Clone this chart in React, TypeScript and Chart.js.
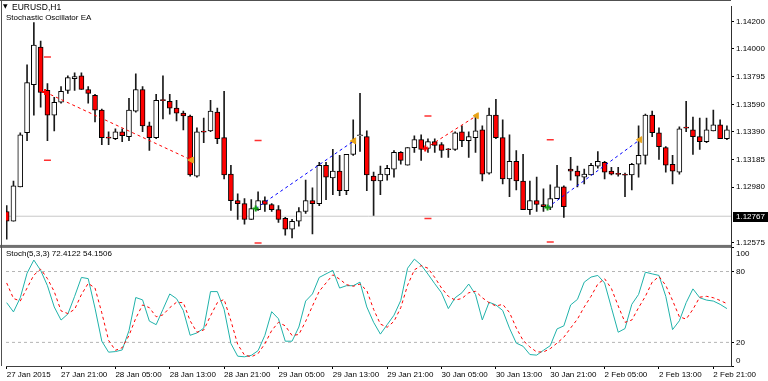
import React, { useEffect, useRef } from "react";
import { Chart, registerables } from "chart.js";

Chart.register(...registerables);

const FONT = "'Liberation Sans', Arial, sans-serif";

// ---------- data ----------
const opens = [
  1.12802, 1.1273, 1.12983, 1.13381, 1.13735, 1.1401, 1.13692, 1.13511, 1.13605, 1.13692,
  1.13779, 1.138, 1.13699, 1.13656, 1.13547, 1.13345, 1.13337, 1.13388, 1.13352, 1.1354,
  1.13699, 1.13431, 1.13345, 1.13619, 1.13612, 1.13562, 1.13525, 1.13504, 1.13062, 1.13388,
  1.13395, 1.13533, 1.13345, 1.13077, 1.12882, 1.1286, 1.12744, 1.12816, 1.12882, 1.12853,
  1.12816, 1.12751, 1.12672, 1.1273, 1.12802, 1.12882, 1.1286, 1.13142, 1.13048, 1.13099,
  1.12954, 1.13222, 1.13359, 1.13352, 1.13062, 1.13026, 1.1307, 1.13113, 1.13236, 1.13142,
  1.13272, 1.1333, 1.13265, 1.13316, 1.13294, 1.13258, 1.13258, 1.13388, 1.13323, 1.13345,
  1.13402, 1.13084, 1.13511, 1.13345, 1.13041, 1.13171, 1.13026, 1.12816, 1.12882, 1.12853,
  1.12831, 1.12896, 1.12983, 1.13113, 1.13099, 1.13055, 1.1307, 1.13135, 1.13164, 1.13099,
  1.13077, 1.1307, 1.1307, 1.13149, 1.13214, 1.13511, 1.13381, 1.13272, 1.13149, 1.13091,
  1.13417, 1.13402, 1.13352, 1.13316, 1.13395, 1.13439, 1.13337,
];
const highs = [
  1.12845, 1.13026, 1.13381, 1.1388, 1.14191, 1.14054, 1.13742, 1.13641, 1.13721, 1.138,
  1.13822, 1.13822, 1.13721, 1.13663, 1.13554, 1.13388, 1.1341, 1.1341, 1.13634, 1.13815,
  1.13721, 1.1346, 1.13663, 1.138, 1.13663, 1.13619, 1.1354, 1.13511, 1.13417, 1.13489,
  1.13619, 1.13562, 1.13685, 1.13142, 1.12932, 1.12896, 1.12889, 1.12947, 1.1291, 1.1286,
  1.12845, 1.12759, 1.12744, 1.12831, 1.13033, 1.12976, 1.13164, 1.13164, 1.13258, 1.13214,
  1.13222, 1.13475, 1.1367, 1.13395, 1.13091, 1.13135, 1.13142, 1.1325, 1.13243, 1.13272,
  1.13359, 1.13366, 1.13337, 1.13337, 1.13308, 1.13265, 1.13388, 1.13431, 1.13388, 1.13511,
  1.13431, 1.13562, 1.13627, 1.13475, 1.13366, 1.1325, 1.13222, 1.13026, 1.13055, 1.12968,
  1.12997, 1.13142, 1.1299, 1.132, 1.13135, 1.13113, 1.13156, 1.13243, 1.13171, 1.13127,
  1.13127, 1.13084, 1.13156, 1.13431, 1.13518, 1.1354, 1.13417, 1.13279, 1.13214, 1.13424,
  1.13612, 1.13496, 1.13489, 1.13489, 1.13547, 1.13475, 1.13431,
];
const lows = [
  1.12599, 1.1273, 1.12983, 1.13323, 1.13511, 1.13569, 1.13323, 1.13395, 1.13598, 1.1367,
  1.13692, 1.13699, 1.13598, 1.1346, 1.13294, 1.13294, 1.1333, 1.13316, 1.13323, 1.13533,
  1.13388, 1.1325, 1.13337, 1.13482, 1.13518, 1.13468, 1.13402, 1.13062, 1.13055, 1.13308,
  1.13388, 1.13301, 1.13041, 1.12809, 1.12744, 1.12708, 1.12744, 1.12809, 1.12802, 1.12802,
  1.12722, 1.12628, 1.12607, 1.12693, 1.12787, 1.12636, 1.12845, 1.12889, 1.12925, 1.12918,
  1.12925, 1.13214, 1.13243, 1.12954, 1.12773, 1.12925, 1.13033, 1.13055, 1.13149, 1.13142,
  1.13236, 1.13178, 1.13236, 1.13236, 1.132, 1.132, 1.1325, 1.13279, 1.132, 1.13236,
  1.13026, 1.13077, 1.13337, 1.13004, 1.1291, 1.12961, 1.12816, 1.1278, 1.12802, 1.12802,
  1.12816, 1.12896, 1.12759, 1.13033, 1.12983, 1.13004, 1.1307, 1.1312, 1.13041, 1.1307,
  1.13062, 1.1291, 1.12961, 1.13055, 1.13149, 1.13352, 1.13185, 1.13091, 1.13004, 1.13077,
  1.13388, 1.13222, 1.13258, 1.13308, 1.13395, 1.13337, 1.1333,
];
const closes = [
  1.1273, 1.1299, 1.13366, 1.1375, 1.14025, 1.13677, 1.13511, 1.13605, 1.13685, 1.13786,
  1.13793, 1.13699, 1.1367, 1.13547, 1.13345, 1.13341, 1.13388, 1.13359, 1.13547, 1.13699,
  1.13431, 1.13345, 1.13619, 1.13617, 1.13562, 1.13525, 1.13504, 1.1307, 1.13388, 1.13386,
  1.1354, 1.13337, 1.1307, 1.12882, 1.1286, 1.12744, 1.12824, 1.12882, 1.12853, 1.12816,
  1.12744, 1.12672, 1.1273, 1.12802, 1.12882, 1.1286, 1.13142, 1.13055, 1.13099, 1.12954,
  1.13222, 1.13316, 1.13362, 1.1307, 1.13026, 1.13077, 1.1312, 1.13236, 1.13178, 1.13272,
  1.1333, 1.13258, 1.13316, 1.13287, 1.1325, 1.13256, 1.13381, 1.13323, 1.13352, 1.13395,
  1.13077, 1.13511, 1.13345, 1.13041, 1.13171, 1.13026, 1.12816, 1.12882, 1.12853, 1.12838,
  1.12896, 1.12983, 1.12838, 1.13099, 1.13062, 1.13077, 1.13142, 1.13171, 1.13091, 1.13077,
  1.13075, 1.13068, 1.13149, 1.13214, 1.13511, 1.13381, 1.13279, 1.13142, 1.13099, 1.1341,
  1.13415, 1.13352, 1.13316, 1.13402, 1.13439, 1.13337, 1.13402,
];

const stochMain = [
  53.6, 45.8, 57.8, 78.6, 89.7, 81, 68, 50, 38.9, 44,
  59, 75, 74, 49, 21, 11.7, 12.2, 13.6, 30, 58,
  56, 38, 35, 48, 61, 57, 47, 26, 28, 32,
  63, 63, 48, 19, 8.3, 7.8, 9, 13, 26, 46,
  40, 21, 21, 33, 55, 61, 75, 78, 81, 66,
  68, 68, 71, 50, 37, 27, 35, 43, 55.5, 82.8,
  90.5, 85.5, 77.8, 69.7, 62, 48.6, 57.8, 62, 69.4, 60.5,
  39, 54, 51.7, 47, 32, 19.4, 16.7, 9.7, 9.2, 13.3,
  17.2, 31.4, 34, 51.7, 56.4, 71, 75.3, 76.7, 70.3, 49.4,
  28.6, 31.7, 52.2, 60.6, 79.4, 78, 76.7, 59, 30.8, 38.3,
  53.6, 65.3, 57.8, 55.8, 55, 52.2, 48.6,
];
const stochSignal = [
  70.3, 57.2, 55, 66, 77, 82, 74, 63, 46.7, 44.4,
  48, 60.5, 70, 66, 45, 21.7, 13.3, 15.5, 25.8, 40.5,
  51.7, 49.4, 41.7, 43.3, 49.4, 54, 53.6, 38.3, 28.6, 30.5,
  42.5, 53.6, 56.4, 38.3, 18.3, 9.2, 7.8, 10.5, 18.9, 30,
  37, 34, 25.8, 26.7, 37.8, 50.8, 63.3, 70.3, 77.2, 73.6,
  68.9, 67.5, 69.4, 63.9, 48, 35.5, 32.8, 37.8, 49.4, 68.3,
  81.4, 85, 82.8, 75, 66, 59, 55.8, 57.2, 62, 63.3,
  57.8, 53.6, 50.8, 52.2, 45.3, 32.2, 21.7, 16.1, 11.9, 11.9,
  14.7, 19.4, 24.4, 32.2, 39.7, 50, 59, 69.4, 73.9, 65.6,
  50.8, 37, 38.9, 49.4, 59, 71, 75.8, 68.3, 55.5, 41.7,
  39.7, 48, 58.3, 59, 57.8, 55.5, 52.8,
];

const timeTickBars = [0, 8, 16, 24, 32, 40, 48, 56, 64, 72, 80, 88, 96, 104];
const timeTickLabels = [
  "27 Jan 2015", "27 Jan 21:00", "28 Jan 05:00", "28 Jan 13:00", "28 Jan 21:00",
  "29 Jan 05:00", "29 Jan 13:00", "29 Jan 21:00", "30 Jan 05:00", "30 Jan 13:00",
  "30 Jan 21:00", "2 Feb 05:00", "2 Feb 13:00", "2 Feb 21:00",
];
const priceTicks = [1.142, 1.14, 1.13795, 1.1359, 1.1339, 1.13185, 1.1298, 1.12575];
const stochTicks = [0, 20, 80, 100];
const stochLevels = [80, 20];
const currentPrice = 1.12767;

const tradeSide = ["sell", "buy", "sell", "buy"];
const tradeEntryBar = [5.65, 36.65, 61.6, 79.6];
const tradeEntryPrice = [1.1368, 1.12824, 1.13265, 1.12831];
const tradeExitBar = [27.2, 51.1, 69.15, 93.2];
const tradeExitPrice = [1.1318, 1.13321, 1.13506, 1.1333];
const markerBar = [6, 37, 62, 80];
const markerUpper = [1.13938, 1.13323, 1.13504, 1.1333];
const markerLower = [1.13178, 1.1257, 1.12751, 1.12578];

const X_MIN = -0.1;
const X_MAX = 106.6;
const PRICE_MIN = 1.12534;
const PRICE_MAX = 1.14307;

const framePlugin = {
  id: "mtFrame",
  afterDraw(chart: any) {
    const { ctx, chartArea } = chart;
    const py = chart.scales.y;
    const sy = chart.scales.y2;
    ctx.save();
    // panel separator
    ctx.fillStyle = "#707070";
    ctx.fillRect(0, py.bottom - 3, chartArea.right, 3);
    // top and left borders
    ctx.fillStyle = "#505050";
    ctx.fillRect(0, 0, chartArea.right, 1);
    ctx.fillRect(1, 0, 1, chartArea.bottom);
    ctx.font = `8px ${FONT}`;
    ctx.textBaseline = "middle";
    ctx.textAlign = "left";
    // stochastic scale labels (MT4 keeps edge labels inside the pane)
    ctx.fillStyle = "#000";
    stochTicks.forEach((v) => {
      let yy = sy.getPixelForValue(v);
      if (v === sy.max) yy += 6;
      if (v === sy.min) yy -= 5;
      ctx.fillText(String(v), sy.left + 5, yy);
    });
    // current price box
    const y = Math.round(py.getPixelForValue(currentPrice));
    ctx.fillStyle = "#000";
    ctx.fillRect(chartArea.right + 2, y - 4, 35, 10);
    ctx.fillStyle = "#fff";
    ctx.fillText(currentPrice.toFixed(5), chartArea.right + 5, y + 1);
    ctx.restore();
  },
};

export default function App() {
  const ref = useRef<HTMLCanvasElement>(null);

  useEffect(() => {
    const canvas = ref.current;
    if (!canvas) return;
    const idx = opens.map((_, i) => i);
    const sideColor = (s: string) => (s === "sell" ? "#ff0000" : "#0000ff");
    const crossColor = (s: string) => (s === "sell" ? "#ff0000" : "#12a012");

    const datasets: any[] = [];

    // wicks
    datasets.push({
      type: "bar",
      data: idx.map((i) => ({ x: i, y: [lows[i], highs[i]] })),
      backgroundColor: "#1a1a1a",
      borderWidth: 0,
      barThickness: 1,
      grouped: false,
      order: 10,
      yAxisID: "y",
    });
    // bodies
    datasets.push({
      type: "bar",
      data: idx.map((i) => ({ x: i, y: [opens[i], closes[i]] })),
      backgroundColor: idx.map((i) => (closes[i] < opens[i] ? "#ff0000" : "#ffffff")),
      borderColor: "#000",
      borderWidth: 1,
      borderSkipped: false,
      barThickness: 5,
      minBarLength: 1,
      grouped: false,
      order: 9,
      yAxisID: "y",
    });
    // current price line
    datasets.push({
      type: "line",
      data: [
        { x: X_MIN, y: currentPrice },
        { x: X_MAX, y: currentPrice },
      ],
      borderColor: "#c8c8c8",
      borderWidth: 1,
      pointRadius: 0,
      order: 11,
      yAxisID: "y",
    });
    // trade lines
    tradeSide.forEach((s, k) => {
      datasets.push({
        type: "line",
        data: [
          { x: tradeEntryBar[k], y: tradeEntryPrice[k] },
          { x: tradeExitBar[k], y: tradeExitPrice[k] },
        ],
        borderColor: sideColor(s),
        borderWidth: 1,
        borderDash: [3, 3],
        pointRadius: 0,
        order: 3,
        yAxisID: "y",
      });
    });
    // entry crosses
    datasets.push({
      type: "line",
      showLine: false,
      data: tradeSide.map((_, k) => ({ x: tradeEntryBar[k], y: tradeEntryPrice[k] })),
      pointStyle: "cross",
      pointRadius: 3,
      pointBorderWidth: 2,
      pointBorderColor: tradeSide.map(crossColor),
      borderColor: tradeSide.map(crossColor),
      order: 1,
      yAxisID: "y",
    });
    // exit triangles
    datasets.push({
      type: "line",
      showLine: false,
      data: tradeSide.map((_, k) => ({ x: tradeExitBar[k], y: tradeExitPrice[k] })),
      pointStyle: "triangle",
      pointRotation: -90,
      pointRadius: 3.5,
      pointBackgroundColor: "#e8a317",
      pointBorderColor: "#e8a317",
      pointBorderWidth: 1,
      order: 1,
      yAxisID: "y",
    });
    // stop / target dashes
    datasets.push({
      type: "line",
      showLine: false,
      data: [
        ...markerBar.map((b, k) => ({ x: b, y: markerUpper[k] })),
        ...markerBar.map((b, k) => ({ x: b, y: markerLower[k] })),
      ],
      pointStyle: "line",
      pointRadius: 3.5,
      pointBorderWidth: 1.5,
      pointBorderColor: "#ff3030",
      borderColor: "#ff3030",
      order: 2,
      yAxisID: "y",
    });
    // stochastic levels
    stochLevels.forEach((lv) => {
      datasets.push({
        type: "line",
        data: [
          { x: X_MIN, y: lv },
          { x: X_MAX, y: lv },
        ],
        borderColor: "#b4b4b4",
        borderWidth: 1,
        borderDash: [3, 3],
        pointRadius: 0,
        order: 8,
        yAxisID: "y2",
      });
    });
    // stochastic %K and %D
    datasets.push({
      type: "line",
      data: idx.map((i) => ({ x: i, y: stochMain[i] })),
      borderColor: "#20b2aa",
      borderWidth: 1,
      pointRadius: 0,
      tension: 0,
      order: 5,
      yAxisID: "y2",
    });
    datasets.push({
      type: "line",
      data: idx.map((i) => ({ x: i, y: stochSignal[i] })),
      borderColor: "#ff0000",
      borderWidth: 1,
      borderDash: [3, 3],
      pointRadius: 0,
      tension: 0,
      order: 4,
      yAxisID: "y2",
    });

    const tickFont = { family: FONT, size: 8 };

    const chart = new Chart(canvas, {
      type: "bar",
      data: { datasets },
      plugins: [framePlugin],
      options: {
        animation: false,
        responsive: false,
        devicePixelRatio: 1,
        events: [],
        layout: { padding: { left: 2, top: 1, right: 0, bottom: 0 } },
        plugins: { legend: { display: false }, tooltip: { enabled: false }, title: { display: false } },
        scales: {
          x: {
            type: "linear",
            min: X_MIN,
            max: X_MAX,
            offset: false,
            afterBuildTicks: (s: any) => {
              s.ticks = timeTickBars.map((v) => ({ value: v }));
            },
            afterFit: (s: any) => {
              s.height = 15;
            },
            ticks: {
              callback: (_v: any, i: number) => timeTickLabels[i],
              align: "start",
              autoSkip: false,
              maxRotation: 0,
              minRotation: 0,
              padding: 1,
              color: "#000",
              font: tickFont,
            },
            grid: { drawOnChartArea: false, drawTicks: true, tickLength: 3, color: "#000", offset: false },
            border: { display: true, color: "#404040" },
          },
          y: {
            type: "linear",
            position: "right",
            stack: "panes",
            stackWeight: 245,
            min: PRICE_MIN,
            max: PRICE_MAX,
            afterBuildTicks: (s: any) => {
              s.ticks = priceTicks.map((v) => ({ value: v }));
            },
            afterFit: (s: any) => {
              s.width = 37;
            },
            ticks: {
              callback: (v: any) => Number(v).toFixed(5),
              padding: 2,
              color: "#000",
              font: tickFont,
            },
            grid: { drawOnChartArea: false, drawTicks: true, tickLength: 3, color: "#000" },
            border: { display: true, color: "#303030" },
          },
          y2: {
            type: "linear",
            position: "right",
            stack: "panes",
            stackWeight: 120,
            min: 0,
            max: 100,
            afterBuildTicks: (s: any) => {
              s.ticks = stochTicks.map((v) => ({ value: v }));
            },
            afterFit: (s: any) => {
              s.width = 37;
            },
            ticks: {
              display: false,
              padding: 2,
              font: tickFont,
            },
            grid: { drawOnChartArea: false, drawTicks: true, tickLength: 3, color: "#000" },
            border: { display: true, color: "#303030" },
          },
        },
      } as any,
    });

    return () => chart.destroy();
  }, []);

  const txt: React.CSSProperties = {
    position: "absolute",
    fontFamily: FONT,
    color: "#000",
    lineHeight: "10px",
    whiteSpace: "nowrap",
    pointerEvents: "none",
  };

  return (
    <div
      style={{
        position: "fixed",
        left: 0,
        top: 0,
        width: 768,
        height: 381,
        background: "#fff",
        overflow: "hidden",
      }}
    >
      <canvas
        ref={ref}
        width={768}
        height={381}
        style={{ position: "absolute", left: 0, top: 0, width: 768, height: 381 }}
      />
      <div style={{ ...txt, left: 3, top: 1, fontFamily: "'DejaVu Sans', sans-serif", fontSize: 6 }}>▼</div>
      <div style={{ ...txt, left: 12, top: 2, fontSize: 8.5 }}>EURUSD,H1</div>
      <div style={{ ...txt, left: 6, top: 13, fontSize: 8 }}>Stochastic Oscillator EA</div>
      <div style={{ ...txt, left: 6, top: 249, fontSize: 8 }}>Stoch(5,3,3) 72.4122 54.1506</div>
    </div>
  );
}
